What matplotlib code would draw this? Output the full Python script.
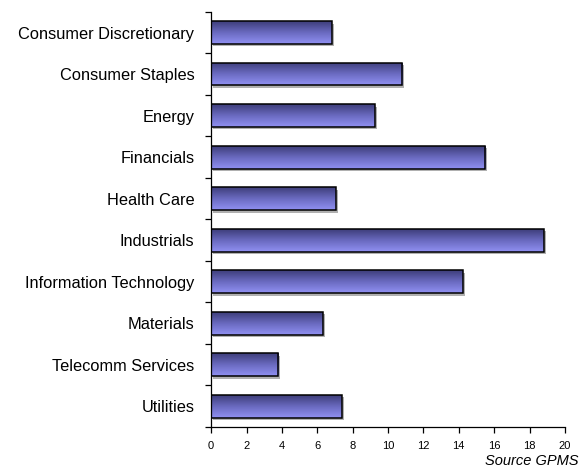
import numpy as np
import matplotlib
matplotlib.use('Agg')
import matplotlib.pyplot as plt
from matplotlib.colors import LinearSegmentedColormap

plt.rcParams['font.family'] = ['Liberation Sans', 'DejaVu Sans']

sectors = ['Consumer Discretionary', 'Consumer Staples', 'Energy', 'Financials',
           'Health Care', 'Industrials', 'Information Technology', 'Materials',
           'Telecomm Services', 'Utilities']
weights = [6.84, 10.8, 9.27, 15.5, 7.06, 18.8, 14.24, 6.33, 3.79, 7.38]
x_ticks = list(range(0, 21, 2))

# dark top -> light bottom, like the old excel gradient fill
grad_cmap = LinearSegmentedColormap.from_list('bar_grad', ['#3e3e7a', '#6a6ac0', '#9090f2'])

fig = plt.figure(figsize=(5.8, 4.71), dpi=100)
ax = fig.add_axes([0.364, 0.0934, 0.61, 0.8816])

pos = np.arange(len(sectors))
bars = ax.barh(pos, weights, height=0.55, color='none', edgecolor='black', linewidth=1.1, zorder=3)

grad = np.linspace(0, 1, 64).reshape(-1, 1)
for b in bars:
    x0, y0 = b.get_x(), b.get_y()
    w, h = b.get_width(), b.get_height()
    # grey drop shadow
    sh = plt.Rectangle((x0 + 0.12, y0 + 0.06), w, h, facecolor='#b0b0b0', edgecolor='none', zorder=1)
    ax.add_patch(sh)
    im = ax.imshow(grad, cmap=grad_cmap, aspect='auto', extent=(x0, x0 + w, y0 + h, y0),
                   zorder=2, interpolation='bilinear')
    im.set_clip_path(b)

ax.set_xlim(0, 20)
ax.set_ylim(len(sectors) - 0.5, -0.5)
ax.set_aspect('auto')

ax.set_xticks(x_ticks)
ax.set_xticklabels([str(t) for t in x_ticks], fontsize=8)
ax.tick_params(axis='x', direction='out', length=4, width=0.9, pad=6)

# labels at bar centres, tick marks at category boundaries
ax.set_yticks(np.arange(-0.5, len(sectors)), minor=False)
ax.set_yticklabels([])
ax.set_yticks(pos, minor=True)
ax.set_yticklabels(sectors, minor=True, fontsize=11.8)
ax.tick_params(axis='y', which='major', direction='out', length=4, width=0.9)
ax.tick_params(axis='y', which='minor', direction='in', length=3, width=0.9, pad=12)

for s in ['top', 'right']:
    ax.spines[s].set_visible(False)
ax.spines['left'].set_linewidth(0.9)
ax.spines['bottom'].set_linewidth(0.9)

fig.text(0.998, 0.036, 'Source GPMS', ha='right', va='top', fontsize=10.5, style='italic')

fig.savefig('out.png', dpi=100)
